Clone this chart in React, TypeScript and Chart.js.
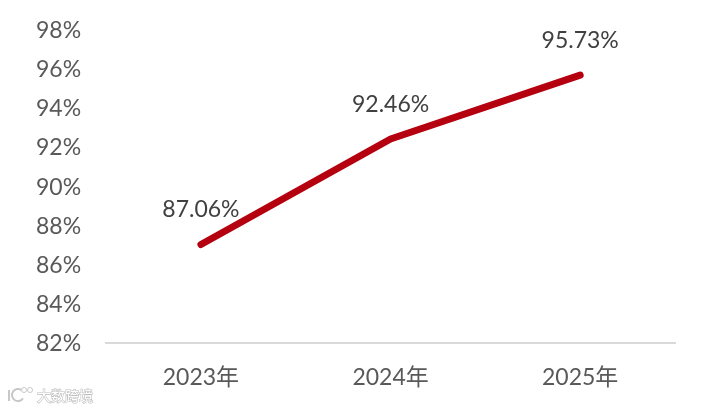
import React, { useEffect, useRef } from "react";
import { Chart, registerables } from "chart.js";

Chart.register(...registerables);

const categories = ["2023年", "2024年", "2025年"];
const values = [87.06, 92.46, 95.73];
const valueLabels = ["87.06%", "92.46%", "95.73%"];
const watermark = "大数跨境";

const FONT = 'Lato, "Noto Sans CJK SC", sans-serif';
const TEXT = "#595959";

const labelPlugin = {
  id: "valueLabels",
  afterDatasetsDraw(chart: any) {
    const { ctx } = chart;
    const meta = chart.getDatasetMeta(0);
    ctx.save();
    ctx.font = `23px ${FONT}`;
    ctx.fillStyle = "#404040";
    ctx.textAlign = "center";
    ctx.textBaseline = "middle";
    meta.data.forEach((p: any, i: number) => {
      ctx.fillText(valueLabels[i], p.x, p.y - 34.5);
    });
    ctx.font = `14px "Noto Sans CJK SC", sans-serif`;
    ctx.textAlign = "left";
    ctx.fillStyle = "#ffffff";
    ctx.strokeStyle = "#bdbdbd";
    ctx.lineWidth = 1.2;
    ctx.strokeText(watermark, 37, 396);
    ctx.fillText(watermark, 37, 396);
    ctx.strokeStyle = "#c8c8c8";
    ctx.lineWidth = 2;
    ctx.beginPath();
    ctx.moveTo(9, 390);
    ctx.lineTo(9, 401);
    ctx.stroke();
    ctx.beginPath();
    ctx.arc(18, 395, 6, 0.6, Math.PI * 1.7);
    ctx.stroke();
    ctx.lineWidth = 1;
    [24, 30].forEach((x) => {
      ctx.beginPath();
      ctx.arc(x, 390, 2.5, 0, Math.PI * 2);
      ctx.stroke();
    });
    ctx.restore();
  },
};

export default function App() {
  const ref = useRef<HTMLCanvasElement>(null);
  useEffect(() => {
    const chart = new Chart(ref.current!, {
      type: "line",
      data: {
        labels: categories,
        datasets: [
          {
            data: values,
            borderColor: "#B5000F",
            borderWidth: 7,
            borderCapStyle: "round",
            borderJoinStyle: "round",
            pointRadius: 0,
            tension: 0,
          },
        ],
      },
      options: {
        animation: false,
        responsive: false,
        layout: { padding: { left: 19, right: 27, top: 22, bottom: 7 } },
        plugins: { legend: { display: false }, tooltip: { enabled: false } },
        scales: {
          x: {
            offset: true,
            grid: { display: false, offset: true },
            border: { color: "#D9D9D9", width: 2 },
            ticks: { color: TEXT, font: { family: FONT, size: 23 }, padding: 12, maxRotation: 0 },
          },
          y: {
            min: 82,
            max: 98,
            grid: { display: false },
            border: { display: false },
            ticks: {
              stepSize: 2,
              color: TEXT,
              font: { family: FONT, size: 23 },
              padding: 17,
              callback: (v: any) => `${v}%`,
            },
          },
        },
      },
      plugins: [labelPlugin],
    });
    return () => chart.destroy();
  }, []);
  return (
    <div style={{ position: "absolute", left: 0, top: 0, width: 702, height: 410, background: "#fff" }}>
      <canvas ref={ref} width={702} height={410} style={{ display: "block" }} />
    </div>
  );
}
